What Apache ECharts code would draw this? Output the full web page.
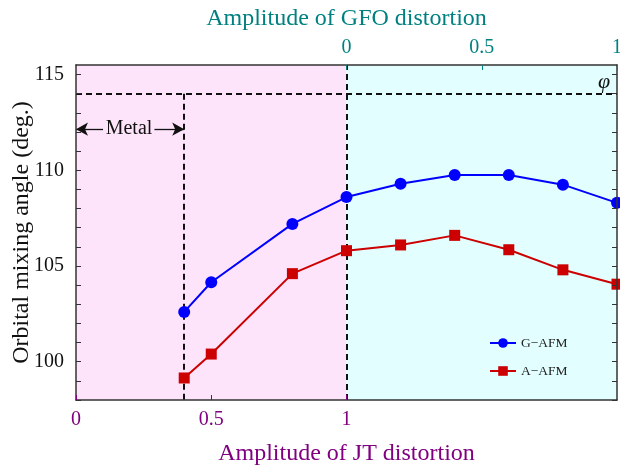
<!DOCTYPE html>
<html>
<head>
<meta charset="utf-8">
<script src="https://cdn.jsdelivr.net/npm/echarts@6/dist/echarts.min.js"></script>
<style>
  html, body { margin: 0; padding: 0; background: #fff; }
  #chart { width: 620px; height: 473px; }
</style>
</head>
<body>
<div id="chart"></div>
<script>
// JT amplitude (bottom axis); the GFO amplitude on top is JT - 1
const jtAmplitude = [0.4, 0.5, 0.8, 1.0, 1.2, 1.4, 1.6, 1.8, 2.0];
const gAfmAngle = [102.6, 104.15, 107.2, 108.6, 109.3, 109.75, 109.75, 109.25, 108.3];
const aAfmAngle = [99.15, 100.4, 104.6, 105.8, 106.1, 106.6, 105.85, 104.8, 104.05];

const jtTicks = [0, 0.5, 1];
const gfoTicks = [0, 0.5, 1];
const angleTicks = [100, 105, 110, 115];
const angleMinorTicks = [98, 99, 100, 101, 102, 103, 104, 105, 106, 107, 108, 109, 110, 111, 112, 113, 114, 115];

// reference angle phi and the metallic region boundary
const phiAngle = 114;
const metalEdge = 0.4;
const metalArrowY = 112.15;
const crossover = 1.0;

const serif = '"Liberation Serif", "DejaVu Serif", serif';
const purple = '#800080';
const teal = '#008080';
const frame = '#333333';

const chart = echarts.init(document.getElementById('chart'));

const dashed = { color: '#111', type: [6, 4], width: 2 };

chart.setOption({
  animation: false,
  backgroundColor: '#ffffff',
  grid: { left: 76, right: 3, top: 65, bottom: 73, containLabel: false, outerBoundsMode: 'none' },
  legend: {
    orient: 'vertical',
    left: 484,
    top: 331,
    itemWidth: 26,
    itemHeight: 12,
    itemGap: 14,
    textStyle: { fontFamily: serif, fontSize: 13.5, color: '#222' },
    data: ['G\u2212AFM', 'A\u2212AFM']
  },
  xAxis: [
    {
      type: 'value', position: 'bottom', min: 0, max: 2, interval: 0.5, z: 10,
      name: 'Amplitude of JT distortion', nameLocation: 'middle', nameGap: 42,
      nameTextStyle: { fontFamily: serif, fontSize: 24, color: purple },
      axisLine: { show: true, onZero: false, lineStyle: { color: frame, width: 1.5 } },
      axisTick: { show: true, inside: true, length: 5, customValues: jtTicks, lineStyle: { color: purple } },
      axisLabel: { customValues: jtTicks, fontFamily: serif, fontSize: 20, color: purple, margin: 10,
        formatter: v => String(v) },
      splitLine: { show: false }
    },
    {
      type: 'value', position: 'top', min: -1, max: 1, interval: 0.5, z: 10,
      name: 'Amplitude of GFO distortion', nameLocation: 'middle', nameGap: 34,
      nameTextStyle: { fontFamily: serif, fontSize: 24, color: teal },
      axisLine: { show: true, onZero: false, lineStyle: { color: frame, width: 1.5 } },
      axisTick: { show: true, inside: true, length: 5, customValues: gfoTicks, lineStyle: { color: teal } },
      axisLabel: { customValues: gfoTicks, fontFamily: serif, fontSize: 20, color: teal, margin: 7,
        formatter: v => String(v) },
      splitLine: { show: false }
    }
  ],
  yAxis: [
    {
      type: 'value', position: 'left', min: 98, max: 115.5, z: 10,
      name: 'Orbital mixing angle (deg.)', nameLocation: 'middle', nameGap: 42, nameMoveOverlap: false,
      nameTextStyle: { fontFamily: serif, fontSize: 24, color: '#111' },
      axisLine: { show: true, onZero: false, lineStyle: { color: frame, width: 1.5 } },
      axisTick: { show: true, inside: true, length: 5, customValues: angleMinorTicks, lineStyle: { color: frame } },
      axisLabel: { customValues: angleTicks, fontFamily: serif, fontSize: 20, color: '#111', margin: 12 },
      splitLine: { show: false }
    },
    {
      type: 'value', position: 'right', min: 98, max: 115.5, z: 10,
      axisLine: { show: true, onZero: false, lineStyle: { color: frame, width: 1.5 } },
      axisTick: { show: true, inside: true, length: 5, customValues: angleMinorTicks, lineStyle: { color: frame } },
      axisLabel: { show: false },
      splitLine: { show: false }
    }
  ],
  series: [
    {
      // shaded regions and guide lines
      name: 'regions', type: 'line', data: [], silent: true,
      markArea: {
        silent: true,
        data: [
          [{ xAxis: 0, itemStyle: { color: '#fde4fb' } }, { xAxis: crossover }],
          [{ xAxis: crossover, itemStyle: { color: '#e2fefe' } }, { xAxis: 2 }]
        ]
      },
      markLine: {
        silent: true, symbol: 'none', label: { show: false }, lineStyle: dashed,
        data: [
          { yAxis: phiAngle },
          { xAxis: crossover },
          [{ coord: [metalEdge, phiAngle] }, { coord: [metalEdge, 98] }]
        ]
      }
    },
    {
      // "Metal" range arrows
      name: 'metal', type: 'line', data: [], silent: true,
      markLine: {
        silent: true, symbol: ['none', 'arrow'], symbolSize: [10, 12],
        label: { show: false },
        lineStyle: { color: '#111', type: 'solid', width: 1.3 },
        data: [
          [{ coord: [0.1, metalArrowY] }, { coord: [0, metalArrowY] }],
          [{ coord: [0.29, metalArrowY] }, { coord: [metalEdge, metalArrowY] }]
        ]
      },
      markPoint: {
        silent: true, symbol: 'circle', symbolSize: 0,
        label: { show: true, formatter: '{b}', fontFamily: serif, fontSize: 20, color: '#111', position: 'inside' },
        data: [
          { name: 'Metal', coord: [0.196, metalArrowY] },
          { name: '\u03c6', coord: [1.952, 114.6],
            label: { fontStyle: 'italic', fontSize: 22 } }
        ]
      }
    },
    {
      name: 'G\u2212AFM', type: 'line',
      data: jtAmplitude.map((x, i) => [x, gAfmAngle[i]]),
      symbol: 'circle', symbolSize: 12,
      itemStyle: { color: '#0000ff' },
      lineStyle: { color: '#0000ff', width: 2 },
      z: 5
    },
    {
      name: 'A\u2212AFM', type: 'line',
      data: jtAmplitude.map((x, i) => [x, aAfmAngle[i]]),
      symbol: 'rect', symbolSize: 11,
      itemStyle: { color: '#cc0000' },
      lineStyle: { color: '#cc0000', width: 2 },
      z: 5
    }
  ]
});
</script>
</body>
</html>
